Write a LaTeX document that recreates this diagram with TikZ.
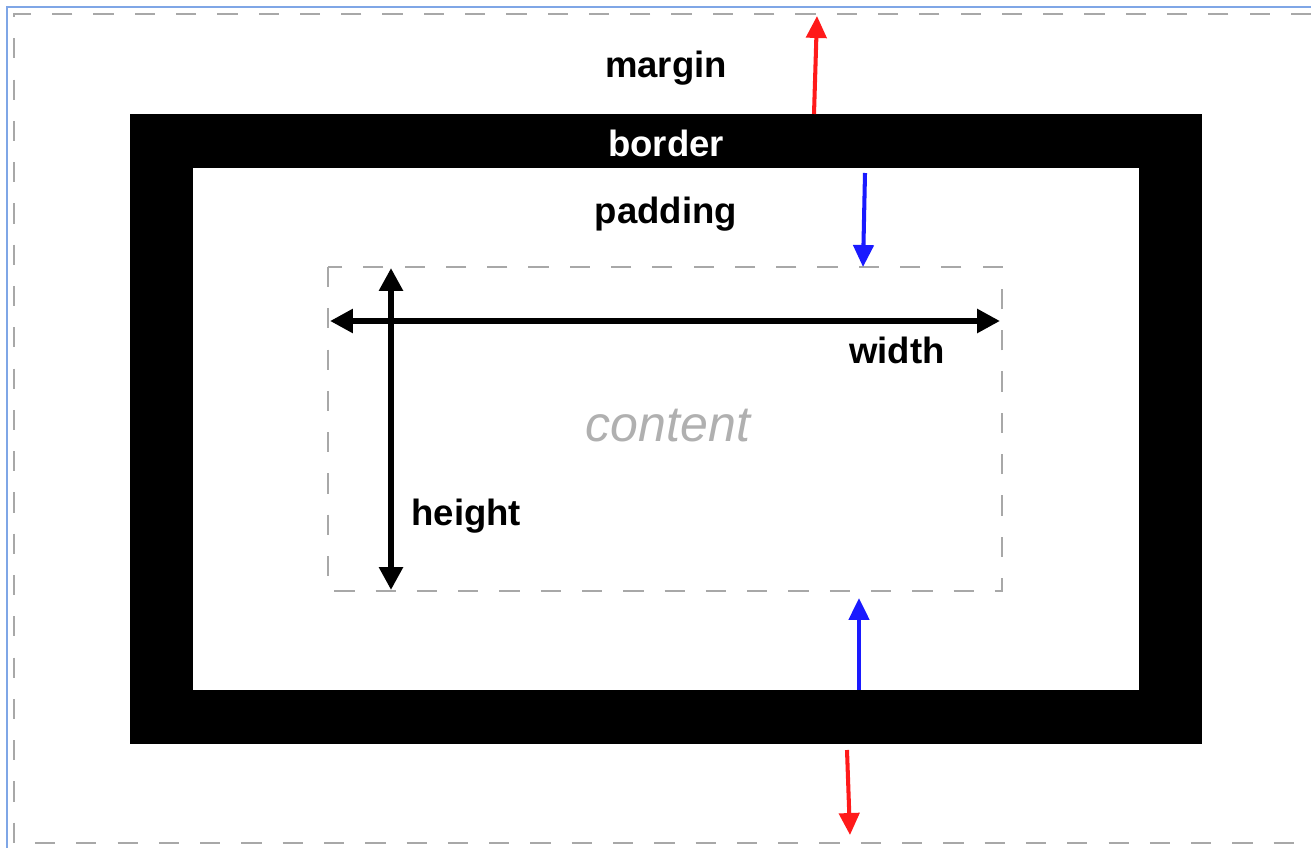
\documentclass[tikz,border=0pt]{standalone}
\usepackage{fontspec}
\setmainfont{Liberation Sans}
\usetikzlibrary{arrows.meta}
\definecolor{framecol}{HTML}{7FA6E6}
\definecolor{dashcol}{HTML}{A8A8A8}
\definecolor{contentcol}{HTML}{B0B0B0}
\definecolor{redcol}{HTML}{FF1A1A}
\definecolor{bluecol}{HTML}{1A1AFF}
\tikzset{
  dashbox/.style={draw=dashcol, line width=1.35pt, dash pattern=on 11.5pt off 12pt},
  lbl/.style={font=\fontsize{20.8pt}{24pt}\selectfont\bfseries, inner sep=0pt},
  redarrow/.style={draw=redcol, line width=2.3pt, -{Triangle[length=12.5pt,width=11.5pt]}},
  bluearrow/.style={draw=bluecol, line width=2.3pt, -{Triangle[length=12.5pt,width=11.5pt]}},
  dimarrow/.style={draw=black, line width=3.3pt, {Triangle[length=13pt,width=13pt]}-{Triangle[length=13pt,width=13pt]}}
}
\begin{document}
\begin{tikzpicture}[x=0.02cm,y=-0.02cm]
\useasboundingbox (0,0) rectangle (1311,848);
% outer frame
\draw[framecol, line width=1.1pt] (7,848) -- (7,7) -- (1311,7);
% margin box (dashed)
\draw[dashbox] (1311,14) -- (14,14) -- (14,843) -- (1311,843);
% border ring
\coordinate (bo1) at (130,114); \coordinate (bo2) at (1202,744);
\coordinate (bi1) at (193,168); \coordinate (bi2) at (1139,690);
\fill[black] (bo1) rectangle (bo2);
\fill[white] (bi1) rectangle (bi2);
% content box
\coordinate (c1) at (328,267); \coordinate (c2) at (1002,591);
\draw[dashbox] (c1) rectangle (c2);
% labels
\node[lbl] (margin) at (666,68) {margin};
\node[lbl, text=white] (border) at (666,143) {border};
\node[lbl] (padding) at (666,214) {padding};
\node[lbl, anchor=west] (width) at (849,350) {width};
\node[lbl, anchor=west] (height) at (411,516) {height};
\node[font=\fontsize{28.5pt}{34pt}\selectfont\itshape, text=contentcol, inner sep=0pt] (content) at (668,426) {content};
% arrow end points
\coordinate (mt0) at (814,114); \coordinate (mt1) at (817,16);
\coordinate (pt0) at (865,173); \coordinate (pt1) at (863,267);
\coordinate (pb0) at (859,690); \coordinate (pb1) at (859,598);
\coordinate (mb0) at (847,750); \coordinate (mb1) at (850,835);
\coordinate (w0) at (330,321); \coordinate (w1) at (1000,321);
\coordinate (h0) at (391,268); \coordinate (h1) at (391,590);
% arrows
\draw[redarrow] (mt0) -- (mt1);
\draw[bluearrow] (pt0) -- (pt1);
\draw[bluearrow] (pb0) -- (pb1);
\draw[redarrow] (mb0) -- (mb1);
\draw[dimarrow] (w0) -- (w1);
\draw[dimarrow] (h0) -- (h1);
\end{tikzpicture}
\end{document}
